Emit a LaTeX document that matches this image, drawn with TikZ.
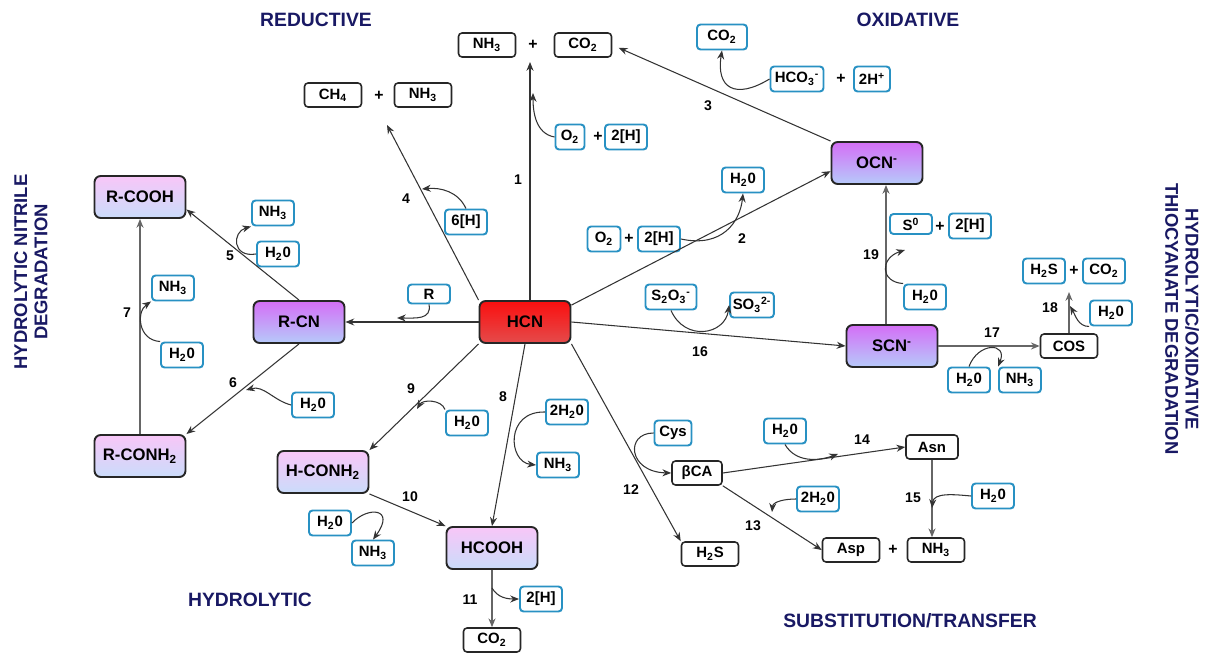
\documentclass[tikz,border=0pt]{standalone}
\usepackage{fontspec}
\setmainfont{Liberation Sans}
\usepackage{xcolor}
\usepackage{tikz}
\usetikzlibrary{arrows.meta, positioning}

\definecolor{boxblue}{RGB}{40,145,195}
\definecolor{titleblue}{RGB}{25,25,100}
\definecolor{hcntop}{RGB}{250,15,15}
\definecolor{hcnbot}{RGB}{228,75,75}
\definecolor{purtop}{RGB}{212,110,246}
\definecolor{purbot}{RGB}{182,202,250}
\definecolor{pintop}{RGB}{248,198,248}
\definecolor{pinbot}{RGB}{202,220,250}

\begin{document}
\begin{tikzpicture}[x=0.02cm, y=-0.02cm,
            big/.style={draw=black!85, line width=1.1pt, rounded corners=3.5pt, minimum width=1.82cm, minimum height=0.84cm, font=\fontsize{9.5}{10}\selectfont\bfseries},
            hcn/.style={big, top color=hcntop, bottom color=hcnbot},
            purp/.style={big, top color=purtop, bottom color=purbot},
            pink/.style={big, top color=pintop, bottom color=pinbot},
            blk/.style={draw=black!85, line width=0.9pt, fill=white, rounded corners=2pt, minimum width=1.14cm, minimum height=0.48cm, inner sep=1.5pt, font=\fontsize{8.5}{9}\selectfont\bfseries},
            blu/.style={draw=boxblue, line width=1.1pt, fill=white, rounded corners=2pt, minimum width=0.84cm, minimum height=0.5cm, inner sep=1.5pt, font=\fontsize{8.5}{9}\selectfont\bfseries},
            plus/.style={font=\fontsize{9}{10}\selectfont\bfseries},
            edge/.style={-{Stealth[length=5pt,width=4pt]}, black!80, line width=0.6pt},
            num/.style={font=\fontsize{8}{9}\selectfont\bfseries},
            title/.style={text=titleblue, font=\fontsize{11}{13}\selectfont\bfseries, align=center},
            sidetitle/.style={text=titleblue, font=\fontsize{10.5}{11.5}\selectfont\bfseries, align=center}
        ]
        \useasboundingbox (0,0) rectangle (1207,655);

        % Titles
        \node[title] (tred) at (316,20) {REDUCTIVE};
        \node[title] (tox) at (908,20) {OXIDATIVE};
        \node[title] (thyd) at (250,600) {HYDROLYTIC};
        \node[title] (tsub) at (910,621) {SUBSTITUTION/TRANSFER};
        \node[sidetitle, rotate=90] (tnit) at (31,272) {HYDROLYTIC NITRILE\\DEGRADATION};
        \node[sidetitle, rotate=-90] (tthio) at (1182,319) {HYDROLYTIC/OXIDATIVE\\THIOCYANATE DEGRADATION};

        % Main nodes (manual layout to match figure)
        \node[hcn] (HCN) at (525,322) {HCN};
        \node[purp] (RCN) at (299,322) {R-CN};
        \node[purp] (OCN) at (877,163) {OCN\textsuperscript{-}};
        \node[purp] (SCN) at (892,346) {SCN\textsuperscript{-}};
        \node[pink] (RCOOH) at (140,197) {R-COOH};
        \node[pink] (RCONH) at (140,456) {R-CONH\textsubscript{2}};
        \node[pink] (HCONH) at (323,472) {H-CONH\textsubscript{2}};
        \node[pink] (HCOOH) at (492,548) {HCOOH};

        % Products
        \node[blk] (NH3a) at (487,45) {NH\textsubscript{3}};
        \node[plus] (pa) at (533,45) {+};
        \node[blk] (CO2a) at (583,45) {CO\textsubscript{2}};
        \node[blk] (CH4) at (333,95) {CH\textsubscript{4}};
        \node[plus] (pb) at (379,96) {+};
        \node[blk] (NH3b) at (423,95) {NH\textsubscript{3}};
        \node[blk] (COS) at (1069,346) {COS};
        \node[blk, minimum width=1.04cm] (Asn) at (932,447) {Asn};
        \node[blk] (Asp) at (851,550) {Asp};
        \node[plus] (pc) at (893,550) {+};
        \node[blk] (NH3c) at (936,550) {NH\textsubscript{3}};
        \node[blk, minimum width=1.0cm] (bCA) at (697,473) {βCA};
        \node[blk] (H2Sa) at (710,554) {H\textsubscript{2}S};
        \node[blk] (CO2b) at (492,640) {CO\textsubscript{2}};

        % Co-substrates and by-products
        \node[blu, minimum width=0.58cm] (O2a) at (570,137) {O\textsubscript{2}};
        \node[plus] (pd) at (598,137) {+};
        \node[blu] (Ha) at (626,137) {2[H]};
        \node[blu, minimum width=1.0cm] (CO2c) at (722,37) {CO\textsubscript{2}};
        \node[blu, minimum width=1.06cm] (HCO3) at (797,79) {HCO\textsubscript{3}\textsuperscript{-}};
        \node[plus] (pe) at (841,79) {+};
        \node[blu, minimum width=0.72cm] (Hplus) at (872,79) {2H\textsuperscript{+}};
        \node[blu] (H2Ob) at (743,180) {H\textsubscript{2}0};
        \node[blu, minimum width=0.66cm] (O2b) at (604,239) {O\textsubscript{2}};
        \node[plus] (pf) at (629,239) {+};
        \node[blu] (Hb) at (659,239) {2[H]};
        \node[blu] (Hsix) at (466,222) {6[H]};
        \node[blu] (NH3e) at (273,213) {NH\textsubscript{3}};
        \node[blu] (H2Oe) at (278,254) {H\textsubscript{2}0};
        \node[blu] (NH3g) at (173,288) {NH\textsubscript{3}};
        \node[blu] (H2Og) at (182,355) {H\textsubscript{2}0};
        \node[blu, minimum height=0.38cm] (Rb) at (429,294) {R};
        \node[blu, minimum width=1.02cm] (S2O3) at (671,297) {S\textsubscript{2}O\textsubscript{3}\textsuperscript{-}};
        \node[blu] (SO3) at (752,305) {SO\textsubscript{3}\textsuperscript{2-}};
        \node[blu, minimum height=0.4cm] (Szero) at (911,224) {S\textsuperscript{0}};
        \node[plus] (pg) at (940,227) {+};
        \node[blu] (Hs) at (970,226) {2[H]};
        \node[blu] (H2Os) at (925,297) {H\textsubscript{2}0};
        \node[blu] (H2Sb) at (1044,271) {H\textsubscript{2}S};
        \node[plus] (ph) at (1074,271) {+};
        \node[blu] (CO2d) at (1104,271) {CO\textsubscript{2}};
        \node[blu] (H2Or) at (1111,313) {H\textsubscript{2}0};
        \node[blu] (H2Oq) at (969,380) {H\textsubscript{2}0};
        \node[blu] (NH3q) at (1020,380) {NH\textsubscript{3}};
        \node[blu] (H2Of) at (313,405) {H\textsubscript{2}0};
        \node[blu] (H2Oi) at (467,423) {H\textsubscript{2}0};
        \node[blu] (H2Oh) at (567,412) {2H\textsubscript{2}0};
        \node[blu] (NH3h) at (558,465) {NH\textsubscript{3}};
        \node[blu] (H2Oj) at (330,523) {H\textsubscript{2}0};
        \node[blu] (NH3j) at (373,553) {NH\textsubscript{3}};
        \node[blu] (Hk) at (541,599) {2[H]};
        \node[blu, minimum width=0.74cm] (Cys) at (673,433) {Cys};
        \node[blu] (H2On) at (785,431) {H\textsubscript{2}0};
        \node[blu] (H2Om) at (818,499) {2H\textsubscript{2}0};
        \node[blu] (H2Oo) at (993,496) {H\textsubscript{2}0};

        % Free ends
        \coordinate (t1) at (530,62);
        \coordinate (t4) at (387,125);
        \coordinate (t18) at (1069,292);
        \coordinate (x19) at (886,0);
        \coordinate (c1) at (533,93);
        \coordinate (c4) at (422,189);
        \coordinate (c6) at (246,390);
        \coordinate (c9) at (417,409);
        \coordinate (c11) at (492,588);
        \coordinate (c13) at (772,512);
        \coordinate (c14) at (838,454);
        \coordinate (c15) at (932,508);
        \coordinate (c18) at (1070,306);
        \coordinate (c19) at (905,250);
        \coordinate (cR) at (397,318);

        % Edges
        \draw[edge] (t1 |- HCN.north) -- (t1);
        \draw[edge] (HCN.20) -- (OCN.190);
        \draw[edge, shorten >=4pt] (OCN.north west) -- (CO2a.east);
        \draw[edge] (HCN.north west) -- (t4);
        \draw[edge] (RCN.north) -- (RCOOH.-15);
        \draw[edge] (RCN.south) -- (RCONH.north east);
        \draw[edge, black!60, line width=0.8pt] (RCONH.north) -- (RCOOH.south);
        \draw[edge] (HCN.south) -- (HCOOH.north);
        \draw[edge] (HCN.south west) -- (HCONH.north east);
        \draw[edge] (HCONH.south east) -- (HCOOH.north west);
        \draw[edge, black!60, line width=0.8pt] (HCOOH.south) -- (CO2b.north);
        \draw[edge] (HCN.south east) -- (H2Sa.north west);
        \draw[edge] (bCA.south east) -- (Asp.west);
        \draw[edge] (bCA.east) -- (Asn.west);
        \draw[edge, black!60, line width=0.8pt] (Asn.south) -- (Asn.south |- NH3c.north);
        \draw[edge] (HCN.east) -- (SCN.west);
        \draw[edge, black!60, line width=0.8pt] (SCN.east) -- (COS.west);
        \draw[edge, black!60, line width=0.8pt] (COS.north) -- (t18);
        \draw[edge, black!60, line width=0.8pt] (x19 |- SCN.north) -- (x19 |- OCN.south);
        \draw[edge] (HCN.west) -- (RCN.east);

        % Side reactions
        \draw[edge] (O2a.west) to[out=170, in=-90] (c1);
        \draw[edge] (Hb.east) .. controls (722,248) and (740,222) .. (H2Ob.south);
        \draw[edge] (HCO3.west) .. controls (735,100) and (716,88) .. (CO2c.south);
        \draw[edge] (Hsix.north) to[out=115, in=5] (c4);
        \draw[edge] (H2Oe.west) .. controls (232,258) and (232,232) .. (NH3e.south west);
        \draw[edge] (H2Of.west) to[out=165, in=15] (c6);
        \draw[edge] (H2Og.north west) .. controls (138,340) and (136,312) .. (NH3g.south west);
        \draw[edge] (H2Oh.west) .. controls (505,411) and (508,462) .. (NH3h.west);
        \draw[edge] (H2Oi.north west) to[out=110, in=60] (c9);
        \draw[edge] (H2Oj.east) .. controls (368,506) and (396,508) .. (NH3j.north);
        \draw[edge] (c11) to[out=-60, in=180] (Hk.west);
        \draw[edge] (Cys.west) .. controls (625,433) and (628,472) .. (bCA.west);
        \draw[edge] (H2Om.west) to[out=180, in=85] (c13);
        \draw[edge] (H2On.south) to[out=-60, in=200] (c14);
        \draw[edge] (H2Oo.west) to[out=175, in=85] (c15);
        \draw[edge] (S2O3.south) .. controls (685,342) and (725,335) .. (SO3.west);
        \draw[edge] (H2Oq.north) .. controls (978,342) and (1008,342) .. (NH3q.north west);
        \draw[edge] (H2Or.south west) to[out=180, in=-60] (c18);
        \draw[edge] (H2Os.north west) .. controls (880,282) and (880,258) .. (c19);
        \draw[edge] (Rb.south) .. controls (432,320) and (415,318) .. (cR);

        % Step numbers
        \node[num] (n1) at (518,180) {1};
        \node[num] (n2) at (742,239) {2};
        \node[num] (n3) at (708,106) {3};
        \node[num] (n4) at (406,199) {4};
        \node[num] (n5) at (230,256) {5};
        \node[num] (n6) at (233,383) {6};
        \node[num] (n7) at (127,313) {7};
        \node[num] (n8) at (503,397) {8};
        \node[num] (n9) at (411,389) {9};
        \node[num] (n10) at (410,497) {10};
        \node[num] (n11) at (470,600) {11};
        \node[num] (n12) at (631,490) {12};
        \node[num] (n13) at (753,526) {13};
        \node[num] (n14) at (862,440) {14};
        \node[num] (n15) at (913,498) {15};
        \node[num] (n16) at (700,352) {16};
        \node[num] (n17) at (992,333) {17};
        \node[num] (n18) at (1050,308) {18};
        \node[num] (n19) at (871,255) {19};

    \end{tikzpicture}
\end{document}
